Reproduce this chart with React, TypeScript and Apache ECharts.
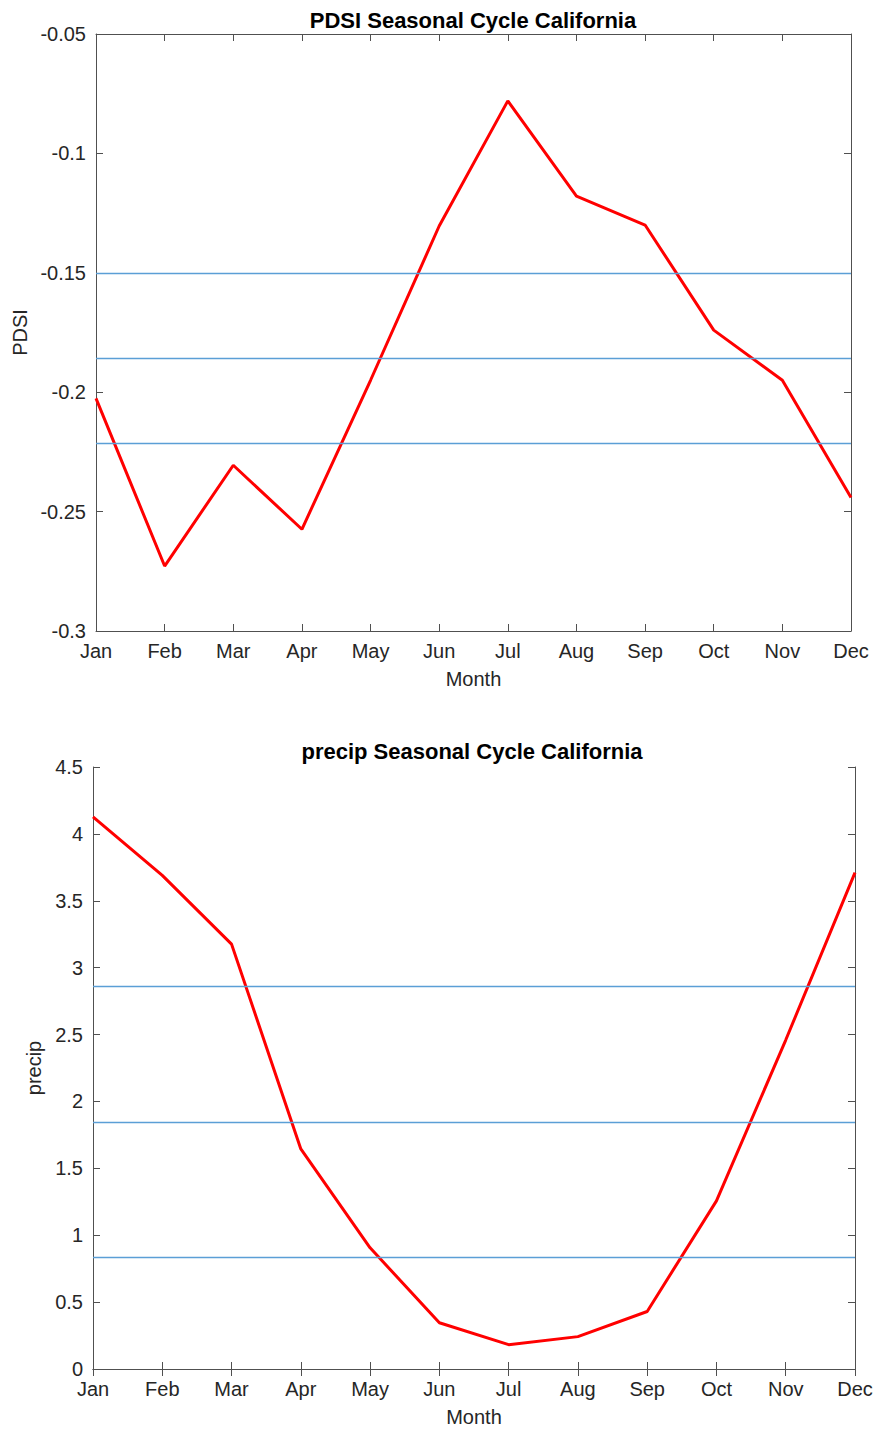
import React, { useEffect, useRef } from "react";
import * as echarts from "echarts";

// Month categories shared by both panels
const months = ["Jan", "Feb", "Mar", "Apr", "May", "Jun", "Jul", "Aug", "Sep", "Oct", "Nov", "Dec"];

// Monthly mean PDSI over California
const pdsiValues = [-0.2026, -0.2728, -0.2306, -0.2574, -0.195, -0.1304, -0.078, -0.1179, -0.13, -0.174, -0.195, -0.2441];
// Mean and mean ± one standard deviation of PDSI
const pdsiRefLines = [-0.1501, -0.1857, -0.2215];

// Monthly mean precipitation over California
const precipValues = [4.127, 3.69, 3.176, 1.645, 0.906, 0.346, 0.182, 0.242, 0.43, 1.257, 2.459, 3.71];
// Mean and mean ± one standard deviation of precipitation
const precipRefLines = [2.862, 1.847, 0.833];

const FONT = "'Liberation Sans', Arial, Helvetica, sans-serif";
const AXIS_COLOR = "#505050";
const TEXT_COLOR = "#262626";
const REF_COLOR = "#5b9fd6";

function fmt(v: number) {
  return String(parseFloat(v.toFixed(2)));
}

function panelAxes(gridIndex: number, min: number, max: number, interval: number, yName: string, yGap: number) {
  const axisLine = { show: true, lineStyle: { color: AXIS_COLOR, width: 1 } };
  const tick = { show: true, inside: true, length: 7, lineStyle: { color: AXIS_COLOR, width: 1 } };
  const xAxes = [
    {
      type: "category",
      gridIndex,
      data: months,
      boundaryGap: false,
      position: "bottom",
      axisLine,
      axisTick: { ...tick, alignWithLabel: true },
      axisLabel: { color: TEXT_COLOR, fontSize: 20, fontFamily: FONT, margin: 10, interval: 0 },
      splitLine: { show: false },
      name: "Month",
      nameLocation: "middle",
      nameGap: 38,
      nameTextStyle: { color: TEXT_COLOR, fontSize: 20, fontFamily: FONT },
    },
    {
      type: "category",
      gridIndex,
      data: months,
      boundaryGap: false,
      position: "top",
      axisLine,
      axisTick: tick,
      axisLabel: { show: false },
      splitLine: { show: false },
    },
  ];
  const yAxes = [
    {
      type: "value",
      gridIndex,
      min,
      max,
      interval,
      position: "left",
      axisLine,
      axisTick: tick,
      axisLabel: { color: TEXT_COLOR, fontSize: 20, fontFamily: FONT, margin: 10, formatter: fmt },
      splitLine: { show: false },
      name: yName,
      nameLocation: "middle",
      nameGap: yGap,
      nameTextStyle: { color: TEXT_COLOR, fontSize: 20, fontFamily: FONT },
    },
    {
      type: "value",
      gridIndex,
      min,
      max,
      interval,
      position: "right",
      axisLine,
      axisTick: tick,
      axisLabel: { show: false },
      splitLine: { show: false },
    },
  ];
  return { xAxes, yAxes };
}

function panelSeries(xIndex: number, yIndex: number, values: number[], refs: number[]) {
  return [
    {
      type: "line",
      xAxisIndex: xIndex,
      yAxisIndex: yIndex,
      data: [],
      z: 1,
      silent: true,
      markLine: {
        symbol: "none",
        silent: true,
        animation: false,
        precision: 6,
        label: { show: false },
        lineStyle: { color: REF_COLOR, width: 1.4, type: "solid" },
        data: refs.map((v) => ({ yAxis: v })),
      },
    },
    {
      type: "line",
      xAxisIndex: xIndex,
      yAxisIndex: yIndex,
      data: values,
      z: 3,
      symbol: "none",
      lineStyle: { color: "#ff0000", width: 3 },
    },
  ];
}

export default function App() {
  const ref = useRef<HTMLDivElement>(null);

  useEffect(() => {
    if (!ref.current) return;
    const chart = echarts.init(ref.current, undefined, { renderer: "svg" });

    const top = panelAxes(0, -0.3, -0.05, 0.05, "PDSI", 65);
    const bottom = panelAxes(1, 0, 4.5, 0.5, "precip", 40);

    chart.setOption({
      animation: false,
      backgroundColor: "#ffffff",
      title: [
        {
          text: "PDSI Seasonal Cycle California",
          left: 468,
          top: 4,
          textAlign: "center",
          textStyle: { fontSize: 22, fontWeight: "bold", color: "#000000", fontFamily: FONT },
        },
        {
          text: "precip Seasonal Cycle California",
          left: 467,
          top: 735,
          textAlign: "center",
          textStyle: { fontSize: 22, fontWeight: "bold", color: "#000000", fontFamily: FONT },
        },
      ],
      grid: [
        { left: 96, top: 34, width: 755, height: 597, containLabel: false },
        { left: 93, top: 767, width: 762, height: 602, containLabel: false },
      ],
      xAxis: [...top.xAxes, ...bottom.xAxes],
      yAxis: [...top.yAxes, ...bottom.yAxes],
      series: [
        ...panelSeries(0, 0, pdsiValues, pdsiRefLines),
        ...panelSeries(2, 2, precipValues, precipRefLines),
      ],
    });

    return () => chart.dispose();
  }, []);

  return (
    <div
      ref={ref}
      style={{ position: "fixed", left: 0, top: 0, width: 877, height: 1431, background: "#fff" }}
    />
  );
}
